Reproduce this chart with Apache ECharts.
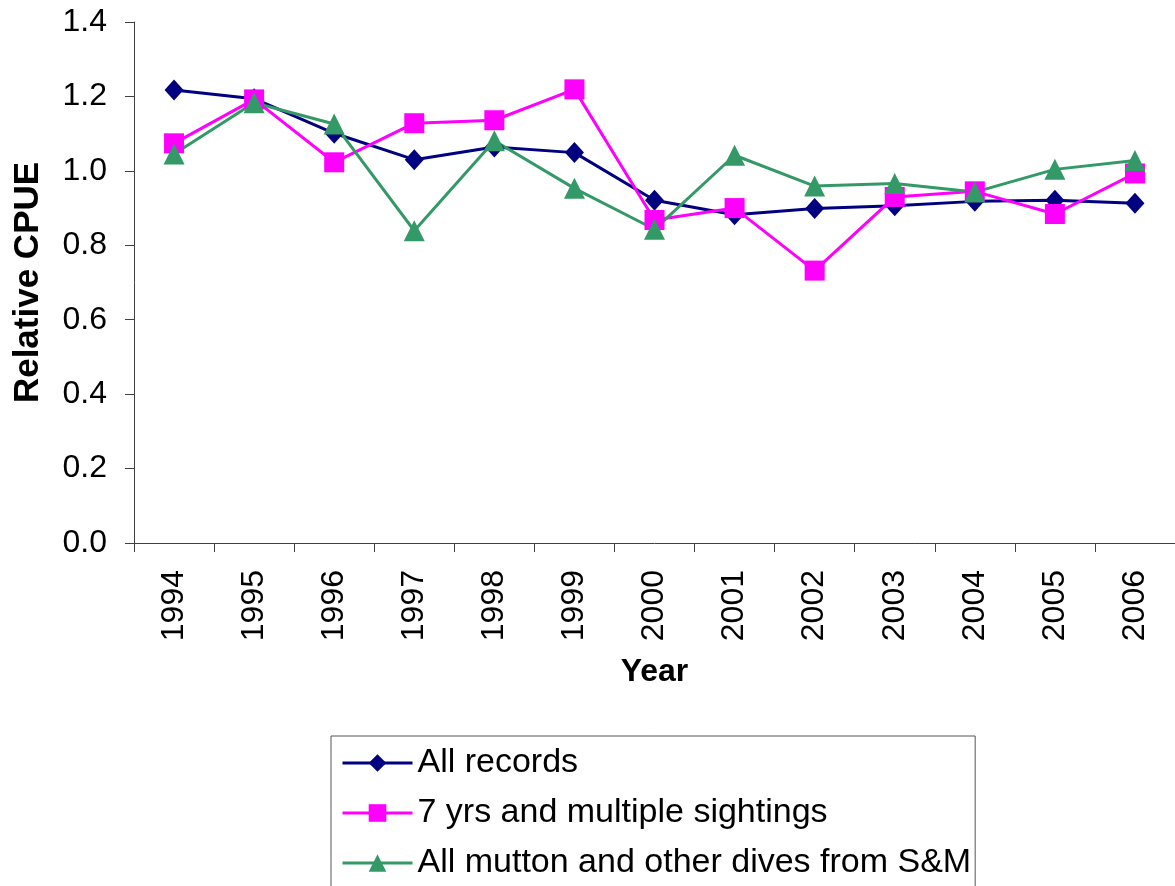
<!DOCTYPE html>
<html>
<head>
<meta charset="utf-8">
<title>Relative CPUE by year</title>
<script src="https://cdn.jsdelivr.net/npm/echarts@6/dist/echarts.min.js"></script>
<style>
  html, body { margin: 0; padding: 0; background: #ffffff; }
  #chart { width: 1175px; height: 886px; }
</style>
</head>
<body>
<div id="chart"></div>
<script>
// Survey years on the category axis
const years = ['1994', '1995', '1996', '1997', '1998', '1999', '2000',
               '2001', '2002', '2003', '2004', '2005', '2006'];

// Relative catch per unit effort for each index
const allRecords = [1.217, 1.194, 1.101, 1.030, 1.064, 1.049, 0.921,
                    0.882, 0.899, 0.906, 0.918, 0.921, 0.913];
const sevenYrsMultiple = [1.074, 1.192, 1.023, 1.128, 1.136, 1.219, 0.868,
                          0.900, 0.732, 0.930, 0.945, 0.884, 0.993];
const muttonSM = [1.045, 1.183, 1.126, 0.839, 1.081, 0.953, 0.843,
                  1.042, 0.959, 0.966, 0.943, 1.004, 1.028];

const seriesNames = ['All records', '7 yrs and multiple sightings',
                     'All mutton and other dives from S&M'];

// Y-axis range and step
const yMin = 0, yMax = 1.4, yStep = 0.2;

const FONT = '"Liberation Sans", Arial, sans-serif';
const AXIS_COLOR = '#404040';

const chart = echarts.init(document.getElementById('chart'), null, { renderer: 'canvas' });

function lineSeries(name, data, color, symbol, size) {
  return {
    name: name,
    type: 'line',
    data: data,
    symbol: symbol,
    symbolSize: size,
    showAllSymbol: true,
    lineStyle: { color: color, width: 3 },
    itemStyle: { color: color },
    emphasis: { disabled: true },
    animation: false
  };
}

chart.setOption({
  backgroundColor: '#ffffff',
  animation: false,
  textStyle: { fontFamily: FONT, color: '#000' },
  grid: { left: 134, top: 22, right: -4, bottom: 343, containLabel: false },
  xAxis: {
    type: 'category',
    data: years,
    boundaryGap: true,
    name: 'Year',
    nameLocation: 'middle',
    nameGap: 113,
    nameTextStyle: { fontFamily: FONT, fontSize: 32, fontWeight: 'bold', color: '#000' },
    axisLine: { show: true, lineStyle: { color: AXIS_COLOR, width: 1 } },
    axisTick: { show: true, alignWithLabel: false, interval: 0, length: 9, lineStyle: { color: AXIS_COLOR } },
    axisLabel: { rotate: 90, interval: 0, margin: 27, fontFamily: FONT, fontSize: 32, color: '#000' },
    splitLine: { show: false }
  },
  yAxis: {
    type: 'value',
    min: yMin,
    max: yMax,
    interval: yStep,
    name: 'Relative CPUE',
    nameLocation: 'middle',
    nameRotate: 90,
    nameGap: 88,
    nameTextStyle: { fontFamily: FONT, fontSize: 35, fontWeight: 'bold', color: '#000' },
    axisLine: { show: true, lineStyle: { color: AXIS_COLOR, width: 1 } },
    axisTick: { show: true, length: 9, lineStyle: { color: AXIS_COLOR } },
    axisLabel: {
      margin: 27, fontFamily: FONT, fontSize: 32, color: '#000',
      formatter: function (v) { return v.toFixed(1); }
    },
    splitLine: { show: false }
  },
  legend: {
    orient: 'vertical',
    left: 331,
    top: 736,
    height: 150,
    padding: [10, 4, 14, 10],
    itemGap: 16,
    itemWidth: 70,
    itemHeight: 22,
    borderColor: '#555',
    borderWidth: 1,
    backgroundColor: '#fff',
    lineStyle: { width: 3 },
    textStyle: { fontFamily: FONT, fontSize: 34, color: '#000', lineHeight: 34 },
    data: seriesNames
  },
  series: [
    lineSeries(seriesNames[0], allRecords, '#000080', 'diamond', [19, 21]),
    lineSeries(seriesNames[1], sevenYrsMultiple, '#ff00ff', 'rect', 20),
    lineSeries(seriesNames[2], muttonSM, '#339966', 'triangle', [21, 21])
  ]
});
</script>
</body>
</html>
